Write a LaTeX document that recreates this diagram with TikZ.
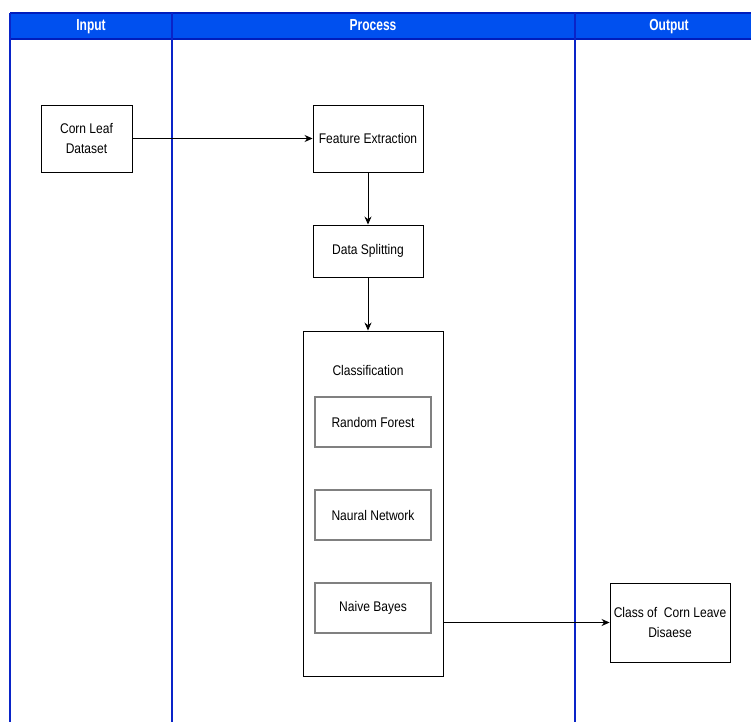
\documentclass[tikz,border=0pt]{standalone}
\usepackage{fontspec}
\setmainfont{Liberation Sans}
\newfontfamily\lblfont[FakeStretch=0.86]{Liberation Sans}
\newfontfamily\hdrfont[FakeStretch=0.75]{Liberation Sans}
\usetikzlibrary{arrows.meta}
\definecolor{hdrblue}{HTML}{0050EF}
\definecolor{hdrline}{HTML}{001DBC}
\definecolor{lanecol}{HTML}{0A24C8}
\definecolor{innergray}{HTML}{808080}
\tikzset{
  lane/.style={draw=lanecol, line width=2pt},
  hdrtext/.style={text=white, anchor=base, font=\hdrfont\bfseries\fontsize{16}{18}\selectfont},
  procbox/.style={draw=black, line width=0.9pt, fill=white, align=center,
    font=\lblfont\fontsize{14}{20}\selectfont, inner sep=1pt},
  algbox/.style={draw=innergray, line width=1.8pt, fill=white, align=center,
    font=\lblfont\fontsize{14}{20}\selectfont, minimum width=116pt, minimum height=50pt},
  lbl/.style={font=\lblfont\fontsize{14}{20}\selectfont},
  flow/.style={draw=black, line width=0.9pt, -{Stealth[length=8pt,width=7pt]}}
}
\begin{document}
\begin{tikzpicture}[x=1pt, y=-1pt]
\useasboundingbox (0,0) rectangle (751,722);
% header
\fill[hdrblue] (10,13) rectangle (751,39);
\draw[lane, draw=hdrline] (10,13) -- (751,13);
\draw[lane, draw=hdrline] (10,39) -- (751,39);
\draw[lane] (10,13) -- (10,722);
\draw[lane] (172,13) -- (172,722);
\draw[lane] (575,13) -- (575,722);
\node[hdrtext] (hin) at (91,31) {Input};
\node[hdrtext] (hproc) at (373,31) {Process};
\node[hdrtext] (hout) at (669,31) {Output};
% nodes
\node[procbox, minimum width=91pt, minimum height=67pt] (corn) at (86.5,138.5) {Corn Leaf\\Dataset};
\node[procbox, minimum width=110pt, minimum height=67pt] (feat) at (368,138.5) {Feature Extraction};
\node[procbox, minimum width=110pt, minimum height=52pt] (split) at (368,251) {Data Splitting};
\node[procbox, minimum width=140pt, minimum height=345pt] (cls) at (373,503.5) {};
\node[lbl] (clslbl) at (368,370) {Classification};
\node[algbox] (rf) at (373,422) {Random Forest};
\node[algbox] (nn) at (373,515) {Naural Network};
\node[algbox] (nb) at (373,608) {Naive Bayes};
\node[procbox, minimum width=120pt, minimum height=79pt] (outn) at (670,622.5) {Class of\ \ Corn Leave\\Disaese};
% connectors
\draw[flow] (corn) -- (feat);
\draw[flow] (feat) -- (split);
\draw[flow] (split) -- (split |- cls.north);
\draw[flow] (cls.east |- outn.west) -- (outn.west);
\end{tikzpicture}
\end{document}
